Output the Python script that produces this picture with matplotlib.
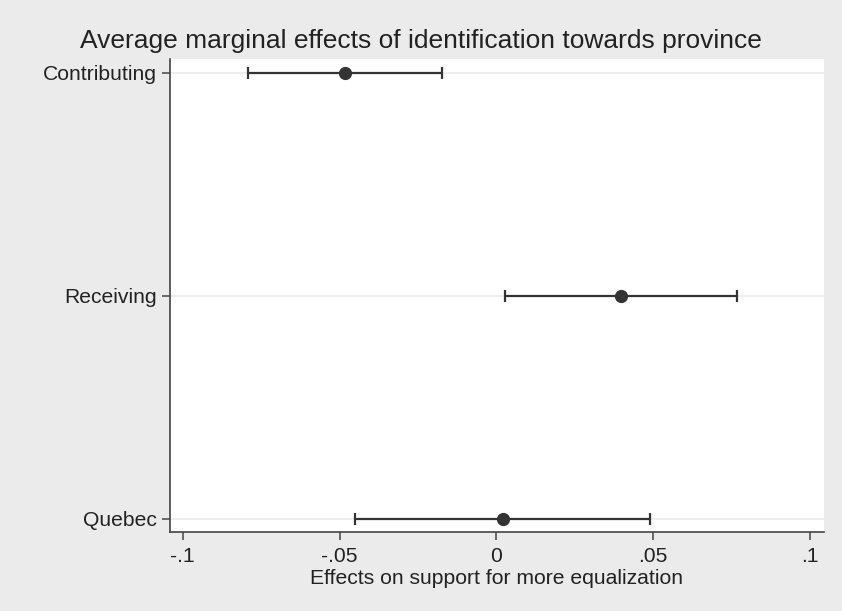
import matplotlib
matplotlib.use("Agg")
import matplotlib.pyplot as plt

# average marginal effects by province group
groups = ["Quebec", "Receiving", "Contributing"]
effect = [0.0020, 0.0397, -0.0483]
ci_low = [-0.0451, 0.0027, -0.0793]
ci_high = [0.0490, 0.0768, -0.0172]

xticks = [-0.1, -0.05, 0, 0.05, 0.1]
xticklabels = ["-.1", "-.05", "0", ".05", ".1"]

plt.rcParams["font.family"] = ["Liberation Sans", "DejaVu Sans"]

bg = "#ebebeb"
ink = "#333333"

fig = plt.figure(figsize=(8.42, 6.11), dpi=100, facecolor=bg)
ax = fig.add_axes([169.5 / 842, 1 - 532 / 611, (824 - 169.5) / 842, (532 - 59) / 611])
ax.set_facecolor("white")

ypos = list(range(1, len(groups) + 1))
for y in ypos:
    ax.axhline(y, color="#eaeaea", lw=1.2, zorder=0)

err_lo = [e - l for e, l in zip(effect, ci_low)]
err_hi = [h - e for e, h in zip(effect, ci_high)]
ax.errorbar(effect, ypos, xerr=[err_lo, err_hi], fmt="o", color=ink,
            ms=8.5, elinewidth=1.6, capsize=4.2, capthick=1.6, zorder=3)

ax.set_xlim(-0.10421, 0.10446)
ax.set_ylim(0.941, 3.061)
ax.set_xticks(xticks)
ax.set_xticklabels(xticklabels)
ax.set_yticks(ypos)
ax.set_yticklabels(groups)

for side in ["top", "right"]:
    ax.spines[side].set_visible(False)
for side in ["left", "bottom"]:
    ax.spines[side].set_color("#444444")
    ax.spines[side].set_linewidth(1.2)

ax.tick_params(axis="both", length=6, width=1.1, color="#444444",
               labelsize=15.2, labelcolor="#222222")
ax.tick_params(axis="x", pad=5)
ax.tick_params(axis="y", pad=3)
ax.set_xlabel("Effects on support for more equalization", fontsize=15.2,
              color="#222222", va="baseline")
ax.xaxis.set_label_coords(0.5, -(584 - 532) / 473)

fig.text(0.5, 1 - 48 / 611,
         "Average marginal effects of identification towards province",
         fontsize=19, color="#222222", ha="center", va="baseline")

fig.savefig("out.png", dpi=100, facecolor=bg)
